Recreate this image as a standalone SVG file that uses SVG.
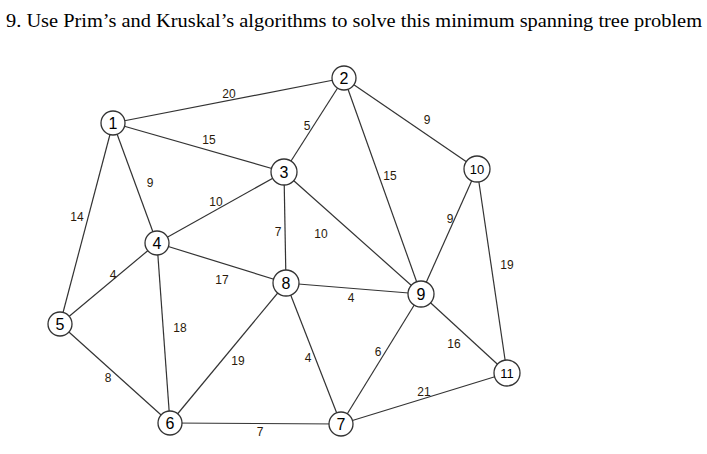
<svg xmlns="http://www.w3.org/2000/svg" width="707" height="454" viewBox="0 0 707 454">
<style>
.e{stroke:#333;stroke-width:1.2}
.n circle{fill:#fff;stroke:#333;stroke-width:1.3}
.n text{font-family:"Liberation Sans",Arial,sans-serif;font-size:16px;text-anchor:middle;fill:#000}
.l{font-family:"Liberation Sans",Arial,sans-serif;font-size:12px;text-anchor:middle;fill:#2a1a0a}
.t{font-family:"Liberation Serif","Times New Roman",serif;font-size:19px;fill:#000}
</style>
<rect width="707" height="454" fill="#fff"/>
<text class="t" x="6" y="27" textLength="696" lengthAdjust="spacingAndGlyphs">9.   Use Prim’s and Kruskal’s algorithms to solve this minimum spanning tree problem</text>
<g id="connectors">
<line class="e" x1="113" y1="123" x2="344" y2="78"/>
<line class="e" x1="113" y1="123" x2="284" y2="172"/>
<line class="e" x1="113" y1="123" x2="157" y2="243"/>
<line class="e" x1="113" y1="123" x2="60" y2="324"/>
<line class="e" x1="344" y1="78" x2="284" y2="172"/>
<line class="e" x1="344" y1="78" x2="421" y2="294"/>
<line class="e" x1="344" y1="78" x2="477" y2="169"/>
<line class="e" x1="284" y1="172" x2="157" y2="243"/>
<line class="e" x1="284" y1="172" x2="286" y2="283"/>
<line class="e" x1="284" y1="172" x2="421" y2="294"/>
<line class="e" x1="157" y1="243" x2="60" y2="324"/>
<line class="e" x1="157" y1="243" x2="286" y2="283"/>
<line class="e" x1="157" y1="243" x2="170" y2="423"/>
<line class="e" x1="60" y1="324" x2="170" y2="423"/>
<line class="e" x1="170" y1="423" x2="286" y2="283"/>
<line class="e" x1="170" y1="423" x2="341" y2="424"/>
<line class="e" x1="286" y1="283" x2="341" y2="424"/>
<line class="e" x1="286" y1="283" x2="421" y2="294"/>
<line class="e" x1="421" y1="294" x2="341" y2="424"/>
<line class="e" x1="421" y1="294" x2="477" y2="169"/>
<line class="e" x1="421" y1="294" x2="507" y2="373"/>
<line class="e" x1="477" y1="169" x2="507" y2="373"/>
<line class="e" x1="341" y1="424" x2="507" y2="373"/>
</g>
<g id="labels">
<text class="l" x="229" y="98">20</text>
<text class="l" x="209" y="144">15</text>
<text class="l" x="150" y="187">9</text>
<text class="l" x="77" y="221">14</text>
<text class="l" x="307" y="130">5</text>
<text class="l" x="390" y="180">15</text>
<text class="l" x="427" y="124">9</text>
<text class="l" x="216" y="206">10</text>
<text class="l" x="278" y="236">7</text>
<text class="l" x="321" y="238">10</text>
<text class="l" x="113" y="279">4</text>
<text class="l" x="222" y="284">17</text>
<text class="l" x="180" y="332">18</text>
<text class="l" x="108" y="382">8</text>
<text class="l" x="238" y="365">19</text>
<text class="l" x="260" y="436">7</text>
<text class="l" x="308" y="362">4</text>
<text class="l" x="351" y="302">4</text>
<text class="l" x="378" y="356">6</text>
<text class="l" x="450" y="223">9</text>
<text class="l" x="454" y="348">16</text>
<text class="l" x="507" y="269">19</text>
<text class="l" x="424" y="396">21</text>
</g>
<g id="node1" class="n"><circle cx="113" cy="123" r="12"/><text x="113" y="129">1</text></g>
<g id="node2" class="n"><circle cx="344" cy="78" r="12"/><text x="344" y="84">2</text></g>
<g id="node3" class="n"><circle cx="284" cy="172" r="13"/><text x="284" y="178">3</text></g>
<g id="node4" class="n"><circle cx="157" cy="243" r="12"/><text x="157" y="249">4</text></g>
<g id="node5" class="n"><circle cx="60" cy="324" r="12"/><text x="60" y="330">5</text></g>
<g id="node6" class="n"><circle cx="170" cy="423" r="12"/><text x="170" y="429">6</text></g>
<g id="node7" class="n"><circle cx="341" cy="424" r="12"/><text x="341" y="430">7</text></g>
<g id="node8" class="n"><circle cx="286" cy="283" r="13"/><text x="286" y="289">8</text></g>
<g id="node9" class="n"><circle cx="421" cy="294" r="13"/><text x="421" y="300">9</text></g>
<g id="node10" class="n"><circle cx="477" cy="169" r="13"/><text x="477" y="174" style="font-size:13px">10</text></g>
<g id="node11" class="n"><circle cx="507" cy="373" r="13"/><text x="507" y="378" style="font-size:13px">11</text></g>
</svg>
